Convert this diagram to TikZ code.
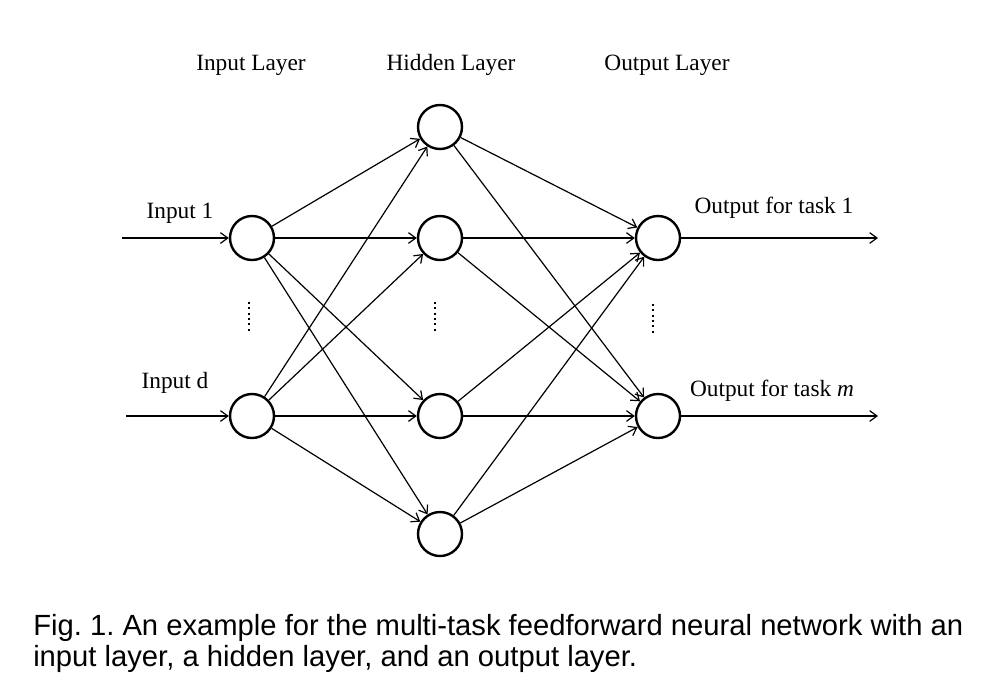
\documentclass[tikz,border=0pt]{standalone}
\usepackage{fontspec}
\setmainfont{Liberation Serif}
\newfontfamily\capfont{Liberation Sans}
\usetikzlibrary{arrows.meta}

\begin{document}
\frenchspacing
\begin{tikzpicture}[x=0.75pt,y=0.75pt,yscale=-1,xscale=1,
        neuron/.style={draw, circle, line width=1.8pt, minimum size=33pt, inner sep=0pt},
        conn/.style={line width=0.9pt, -{Straight Barb[length=5.5pt,width=8pt]}},
        vdots/.style={line width=1.6pt, dash pattern={on 1.4pt off 2.6pt}},
        lbl/.style={font=\fontsize{17.5}{20}\selectfont, inner sep=0pt}]
        \useasboundingbox (0,0) rectangle (988,690);

        % Layer titles
        \node [lbl] (tin) at (251,65) {Input Layer};
        \node [lbl] (thid) at (451,65) {Hidden Layer};
        \node [lbl] (tout) at (667,65) {Output Layer};

        % Neurons
        \node [neuron] (in1) at (252,238) {};
        \node [neuron] (ind) at (252,416) {};
        \node [neuron] (h1) at (440,127) {};
        \node [neuron] (h2) at (440,238) {};
        \node [neuron] (h3) at (440,416) {};
        \node [neuron] (h4) at (440,534) {};
        \node [neuron] (o1) at (658,238) {};
        \node [neuron] (om) at (658,416) {};

        % Free ends
        \coordinate (s1) at (122,238);
        \coordinate (sd) at (126,416);
        \coordinate (e1) at (878,238);
        \coordinate (em) at (878,416);

        % Connections
        \draw [conn] (s1) -- (in1);
        \draw [conn] (sd) -- (ind);
        \foreach \i in {in1,ind}
            \foreach \h in {h1,h2,h3,h4}
                \draw [conn] (\i) -- (\h);
        \foreach \h in {h1,h2,h3,h4}
            \foreach \o in {o1,om}
                \draw [conn] (\h) -- (\o);
        \draw [conn] (o1) -- (e1);
        \draw [conn] (om) -- (em);

        % Dots
        \draw [vdots] (249,302) -- (249,332);
        \draw [vdots] (435,302) -- (435,332);
        \draw [vdots] (653,304) -- (653,334);

        % Text Nodes
        \node [lbl] (lin1) at (180,213) {Input 1};
        \node [lbl] (lind) at (175,383) {Input d};
        \node [lbl] (lo1) at (774,208) {Output for task 1};
        \node [lbl] (lom) at (772,391) {Output for task \textit{m}};

        % Caption
        \node [anchor=base west, inner sep=0pt, font=\capfont\fontsize{21.9}{24}\selectfont] (cap1) at (33,635) {Fig. 1. An example for the multi-task feedforward neural network with an};
        \node [anchor=base west, inner sep=0pt, font=\capfont\fontsize{21.9}{24}\selectfont] (cap2) at (33,666) {input layer, a hidden layer, and an output layer.};

\end{tikzpicture}
\end{document}
